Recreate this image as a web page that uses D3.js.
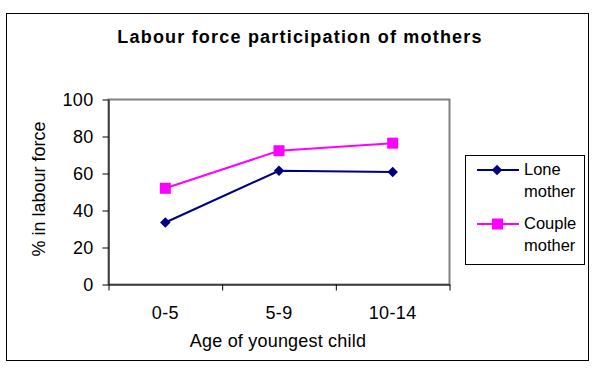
<!DOCTYPE html>
<html lang="en">
    <head>
        <meta charset="utf-8">
        <title>Labour force participation of mothers</title>
        <script src="https://d3js.org/d3.v7.min.js"></script>
        <style type="text/css">
            body {
                margin: 0;
                background: #fff;
            }
            svg text {
                font-family: "Liberation Sans", Arial, sans-serif;
                fill: #000;
            }
            .axis path, .axis line {
                stroke: #000;
            }
        </style>
    </head>
    <body>
        <script type="text/javascript">
        //Data
        const ages = ["0-5", "5-9", "10-14"];
        const loneMother = [33.5, 61.5, 60.8];
        const coupleMother = [52, 72.3, 76.4];
        const yTicks = [0, 20, 40, 60, 80, 100];
        const seriesNames = ["Lone mother", "Couple mother"];

        //Constants
        const w = 602;
        const h = 376;
        const plot = { left: 108.5, top: 99.5, right: 449.5, bottom: 284.5 };
        const navy = "#000080";
        const magenta = "#ff00ff";

        const svg = d3.select("body")
                      .append("svg")
                      .attr("width", w)
                      .attr("height", h);

        //outer chart border
        svg.append("rect")
           .attr("x", 6.5)
           .attr("y", 13.5)
           .attr("width", 582)
           .attr("height", 347)
           .attr("fill", "#fff")
           .attr("stroke", "#000");

        //Title
        svg.append("text")
           .attr("x", 300)
           .attr("y", 43)
           .attr("text-anchor", "middle")
           .attr("font-size", "18px")
           .attr("font-weight", "bold")
           .attr("letter-spacing", "1.2px")
           .text("Labour force participation of mothers");

        //Scales
        const xScale = d3.scaleBand()
                         .domain(ages)
                         .range([plot.left, plot.right])
                         .padding(0);

        const xEdges = d3.scaleLinear()
                         .domain([0, ages.length])
                         .range([plot.left, plot.right]);

        const yScale = d3.scaleLinear()
                         .domain([0, 100])
                         .range([plot.bottom, plot.top]);

        //plot area border (grey)
        svg.append("rect")
           .attr("x", plot.left)
           .attr("y", plot.top)
           .attr("width", plot.right - plot.left)
           .attr("height", plot.bottom - plot.top)
           .attr("fill", "none")
           .attr("stroke", "#808080")
           .attr("stroke-width", 2);

        //Axes
        const leftAxis = d3.axisLeft(yScale)
                           .tickValues(yTicks)
                           .tickSize(6)
                           .tickPadding(9)
                           .tickSizeOuter(0);

        svg.append("g")
           .attr("class", "axis")
           .attr("transform", "translate(" + plot.left + ",0)")
           .call(leftAxis)
           .call(g => g.selectAll("text")
                       .attr("font-size", "18px")
                       .attr("letter-spacing", "0.3px"));

        //tick marks between categories
        svg.append("g")
           .attr("class", "axis")
           .attr("transform", "translate(0," + plot.bottom + ")")
           .call(d3.axisBottom(xEdges)
                   .tickValues(d3.range(ages.length + 1))
                   .tickFormat("")
                   .tickSize(6)
                   .tickSizeOuter(0));

        //category labels
        svg.append("g")
           .attr("transform", "translate(0," + plot.bottom + ")")
           .call(d3.axisBottom(xScale).tickSize(0).tickPadding(22))
           .call(g => g.select(".domain").remove())
           .call(g => g.selectAll("text")
                       .attr("font-size", "18px")
                       .attr("letter-spacing", "0.4px"));

        //Axis labels
        svg.append("text")
           .attr("x", 278)
           .attr("y", 347)
           .attr("text-anchor", "middle")
           .attr("font-size", "18px")
           .attr("letter-spacing", "0.2px")
           .text("Age of youngest child");

        svg.append("text")
           .attr("transform", "translate(44.5,189) rotate(-90)")
           .attr("text-anchor", "middle")
           .attr("font-size", "18px")
           .text("% in labour force");

        //Lines
        const line = d3.line()
                       .x((d, i) => xScale(ages[i]) + xScale.bandwidth() / 2)
                       .y(d => yScale(d));

        svg.append("path")
           .datum(loneMother)
           .attr("d", line)
           .attr("fill", "none")
           .attr("stroke", navy)
           .attr("stroke-width", 2);

        svg.append("path")
           .datum(coupleMother)
           .attr("d", line)
           .attr("fill", "none")
           .attr("stroke", magenta)
           .attr("stroke-width", 2);

        //Markers
        const diamond = d3.symbol().type(d3.symbolDiamond2).size(70);

        svg.selectAll(".lone")
           .data(loneMother)
           .enter()
           .append("path")
           .attr("class", "lone")
           .attr("d", diamond)
           .attr("transform", (d, i) => "translate(" + (xScale(ages[i]) + xScale.bandwidth() / 2) + "," + yScale(d) + ")")
           .attr("fill", navy);

        svg.selectAll(".couple")
           .data(coupleMother)
           .enter()
           .append("rect")
           .attr("class", "couple")
           .attr("x", (d, i) => xScale(ages[i]) + xScale.bandwidth() / 2 - 5.5)
           .attr("y", d => yScale(d) - 5.5)
           .attr("width", 11)
           .attr("height", 11)
           .attr("fill", magenta);

        //Legend
        svg.append("rect")
           .attr("x", 465.5)
           .attr("y", 155.5)
           .attr("width", 119)
           .attr("height", 109)
           .attr("fill", "#fff")
           .attr("stroke", "#000");

        const legendColors = [navy, magenta];
        const legend = svg.selectAll(".legend")
                          .data(seriesNames)
                          .enter()
                          .append("g")
                          .attr("class", "legend")
                          .attr("transform", (d, i) => "translate(0," + (170 + i * 54) + ")");

        legend.append("line")
              .attr("x1", 477)
              .attr("x2", 519)
              .attr("stroke", (d, i) => legendColors[i])
              .attr("stroke-width", 2);

        legend.filter((d, i) => i === 0)
              .append("path")
              .attr("d", diamond)
              .attr("transform", "translate(497,0)")
              .attr("fill", navy);

        legend.filter((d, i) => i === 1)
              .append("rect")
              .attr("x", 492)
              .attr("y", -5.5)
              .attr("width", 11)
              .attr("height", 11)
              .attr("fill", magenta);

        legend.append("text")
              .attr("x", 524)
              .attr("y", 5)
              .attr("font-size", "16.5px")
              .selectAll("tspan")
              .data(d => d.split(" "))
              .enter()
              .append("tspan")
              .attr("x", 524)
              .attr("dy", (d, i) => i === 0 ? 0 : 22)
              .text(d => d);
        </script>
    </body>
</html>
